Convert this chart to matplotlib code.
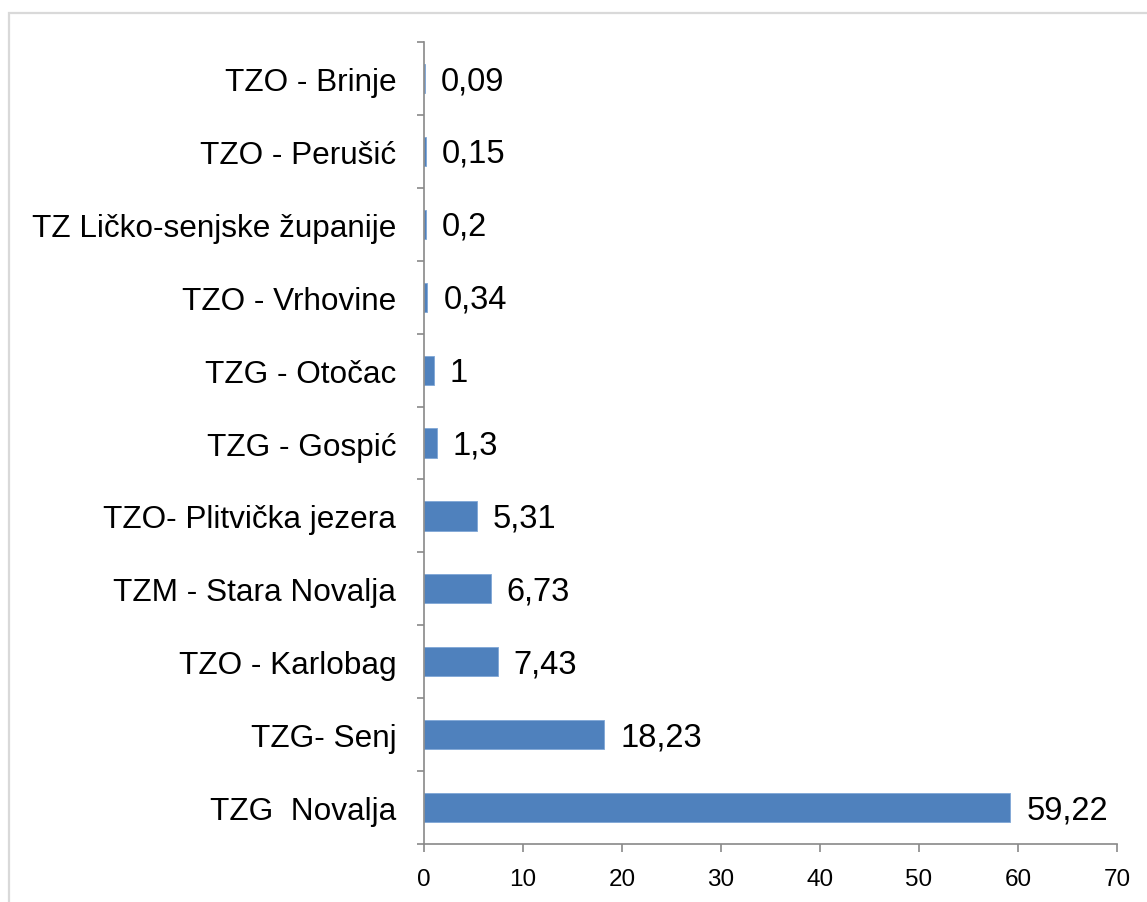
import matplotlib.pyplot as plt
from matplotlib.patches import Rectangle

plt.rcParams['font.family'] = ['Liberation Sans', 'DejaVu Sans']

# categories listed bottom to top
categories = ["TZG  Novalja", "TZG- Senj", "TZO - Karlobag", "TZM - Stara Novalja",
              "TZO- Plitvička jezera", "TZG - Gospić", "TZG - Otočac", "TZO - Vrhovine",
              "TZ Ličko-senjske županije", "TZO - Perušić", "TZO - Brinje"]
values = [59.22, 18.23, 7.43, 6.73, 5.31, 1.3, 1, 0.34, 0.2, 0.15, 0.09]
value_labels = ["59,22", "18,23", "7,43", "6,73", "5,31", "1,3", "1", "0,34", "0,2", "0,15", "0,09"]
x_ticks = [0, 10, 20, 30, 40, 50, 60, 70]

fig = plt.figure(figsize=(11.47, 9.03), dpi=100)
ax = fig.add_axes([0.3697, 0.0642, 0.9738 - 0.3697, 0.9524 - 0.0642])

# light frame around the chart area
fig.patches.append(Rectangle((9 / 1147, -0.1), 1.2, 1 - 14 / 903 + 0.1,
                             transform=fig.transFigure, fill=False,
                             edgecolor='#d9d9d9', linewidth=1.6))

pos = list(range(len(categories)))
ax.barh(pos, values, height=0.4, color='#4f81bd', edgecolor='#7fa6d6', linewidth=0.6)

for p, v, lab in zip(pos, values, value_labels):
    ax.annotate(lab, (v, p), xytext=(11.5, -1.5), textcoords='offset points',
                va='center', ha='left', fontsize=23.5)

ax.set_xlim(0, 70)
ax.set_ylim(-0.5, len(categories) - 0.5)
ax.set_xticks(x_ticks)
ax.set_xticklabels([str(t) for t in x_ticks], fontsize=17.5)
ax.set_yticks(pos)
ax.set_yticklabels(categories, fontsize=22.7)
ax.set_yticks([p - 0.5 for p in pos] + [len(categories) - 0.5], minor=True)

ax.tick_params(axis='y', which='major', length=0, pad=20)
ax.tick_params(axis='y', which='minor', length=5, width=1.2, color='#898989')
ax.tick_params(axis='x', length=5.5, width=1.2, color='#898989', pad=12)

for side in ['top', 'right']:
    ax.spines[side].set_visible(False)
for side in ['left', 'bottom']:
    ax.spines[side].set_color('#898989')
    ax.spines[side].set_linewidth(1.2)

fig.savefig('out.png', dpi=100)
